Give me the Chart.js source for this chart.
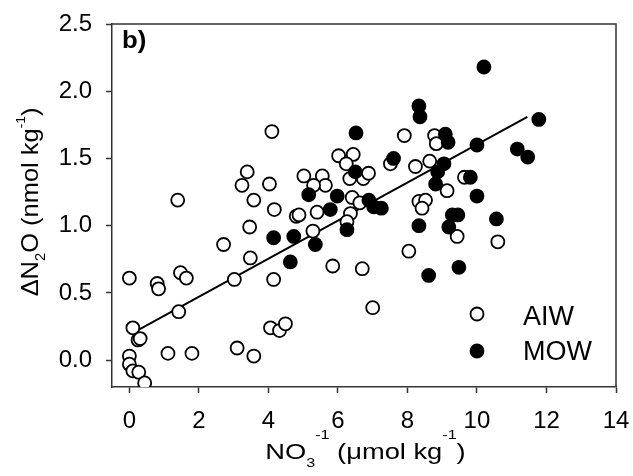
<!DOCTYPE html>
<html>
<head>
<meta charset="utf-8">
<script src="https://cdn.jsdelivr.net/npm/chart.js@4"></script>
<style>
html, body { margin: 0; padding: 0; background: #fff; }
</style>
</head>
<body>
<canvas id="myChart" width="633" height="476"></canvas>
<script>
// AIW (open circles)
const aiwX = [0.00, 0.80, 0.84, 1.39, 1.47, 1.64, 1.42, 0.10, 0.25, 0.31, 0.00, 0.00, 0.10, 0.27, 0.44,
    1.11, 1.80, 2.71, 3.02, 3.10, 3.58, 3.46, 3.48, 4.15, 4.06, 4.32, 4.49, 3.58, 4.17, 4.80,
    4.88, 5.40, 5.28, 5.85, 6.70, 6.36, 7.00, 6.41, 6.63, 4.10, 3.39, 3.24, 4.03, 5.02, 5.55,
    5.64, 5.30, 6.02, 6.44, 6.24, 6.34, 6.73, 6.88, 6.26, 7.91, 8.78, 8.83, 7.51, 8.23, 8.64,
    9.64, 9.14, 8.33, 8.52, 8.42, 9.43, 10.60, 8.04];
const aiwY = [0.61, 0.57, 0.53, 1.19, 0.65, 0.61, 0.36, 0.24, 0.15, 0.16, 0.03, -0.03, -0.08, -0.09, -0.17,
    0.05, 0.05, 0.86, 0.60, 0.09, 0.03, 0.99, 0.76, 0.60, 0.24, 0.22, 0.27, 1.19, 1.12, 1.07,
    1.08, 1.10, 0.96, 0.70, 0.68, 1.09, 0.39, 1.21, 1.17, 1.70, 1.40, 1.30, 1.31, 1.37, 1.37,
    1.30, 1.30, 1.52, 1.53, 1.46, 1.35, 1.35, 1.39, 1.03, 1.67, 1.67, 1.61, 1.46, 1.44, 1.48,
    1.36, 1.26, 1.18, 1.19, 1.13, 0.92, 0.88, 0.81];

// MOW (filled circles)
const mowX = [4.15, 4.73, 4.63, 5.35, 5.78, 5.98, 5.16, 6.26, 6.89, 7.03, 7.25, 6.52, 6.50, 10.20, 8.33,
    8.36, 11.78, 9.09, 9.17, 10.00, 11.16, 11.46, 7.60, 9.05, 8.87, 8.81, 9.81, 10.00, 10.56, 8.33,
    9.19, 9.29, 9.45, 8.61, 9.48];
const mowY = [0.91, 0.92, 0.73, 0.86, 1.12, 1.22, 1.23, 0.97, 1.19, 1.14, 1.13, 1.69, 1.40, 2.18, 1.89,
    1.81, 1.79, 1.68, 1.62, 1.60, 1.57, 1.51, 1.50, 1.46, 1.40, 1.31, 1.36, 1.22, 1.05, 1.00,
    0.99, 1.08, 1.08, 0.63, 0.69];

// regression line end points
const fitX = [0.30, 11.45];
const fitY = [0.23, 1.81];

const xTicks = [0, 2, 4, 6, 8, 10, 12, 14];
const yTicks = [0, 0.5, 1.0, 1.5, 2.0, 2.5];

const FONT = '"Liberation Sans", Arial, sans-serif';
const pts = (xs, ys) => xs.map((x, i) => ({ x: x, y: ys[i] }));

// draw text with sub/superscripts, centred on 0 at baseline 0
function richText(c, parts, sx) {
    let w = 0;
    parts.forEach(p => {
        c.font = p.size + 'px ' + FONT;
        p.w = c.measureText(p.t).width;
        w += p.w;
    });
    c.save();
    c.scale(sx, 1);
    let x = -w / 2;
    parts.forEach(p => {
        c.font = p.size + 'px ' + FONT;
        c.fillText(p.t, x, p.dy);
        x += p.w;
    });
    c.restore();
}

const extras = {
    id: 'extras',
    afterDraw(chart) {
        const c = chart.ctx;
        const a = chart.chartArea;
        c.save();
        // top and right frame
        c.strokeStyle = '#333';
        c.lineWidth = 1.5;
        c.beginPath();
        c.moveTo(a.left, a.top);
        c.lineTo(a.right, a.top);
        c.lineTo(a.right, a.bottom);
        c.stroke();

        c.fillStyle = '#000';
        c.textBaseline = 'alphabetic';
        c.textAlign = 'left';

        // panel label
        c.save();
        c.translate(122, 48);
        c.scale(1.12, 1);
        c.font = 'bold 23px ' + FONT;
        c.fillText('b)', 0, 0);
        c.restore();

        // legend
        c.lineWidth = 1.8;
        c.strokeStyle = '#000';
        c.beginPath();
        c.arc(477, 314, 6.5, 0, Math.PI * 2);
        c.fillStyle = '#fff';
        c.fill();
        c.stroke();
        c.beginPath();
        c.arc(477, 351, 6.5, 0, Math.PI * 2);
        c.fillStyle = '#000';
        c.fill();
        c.stroke();
        c.font = '27px ' + FONT;
        c.fillText('AIW', 523, 324.5);
        c.fillText('MOW', 523, 360);

        // x title
        c.save();
        c.translate(365.5, 459);
        richText(c, [
            { t: 'NO', size: 22, dy: 0 },
            { t: '3', size: 13, dy: 8 },
            { t: '-1', size: 13, dy: -20 },
            { t: ' (\u03BCmol kg', size: 22, dy: 0 },
            { t: '-1', size: 13, dy: -20 },
            { t: ')', size: 22, dy: 0 }
        ], 1.24);
        c.restore();

        // y title
        c.save();
        c.translate(38, 202);
        c.rotate(-Math.PI / 2);
        richText(c, [
            { t: '\u0394N', size: 24, dy: 0 },
            { t: '2', size: 14, dy: 7 },
            { t: 'O (nmol kg', size: 24, dy: 0 },
            { t: '-1', size: 13, dy: -13 },
            { t: ')', size: 24, dy: 0 }
        ], 1.06);
        c.restore();

        c.restore();
    }
};

const ctx = document.getElementById('myChart').getContext('2d');
const myChart = new Chart(ctx, {
    type: 'scatter',
    data: {
        datasets: [{
            label: 'MOW',
            data: pts(mowX, mowY),
            backgroundColor: '#000',
            borderColor: '#000',
            borderWidth: 1.8,
            pointRadius: 6.5,
            order: 1
        }, {
            label: 'AIW',
            data: pts(aiwX, aiwY),
            backgroundColor: '#fff',
            borderColor: '#000',
            borderWidth: 1.8,
            pointRadius: 6.5,
            order: 2
        }, {
            label: 'fit',
            data: pts(fitX, fitY),
            showLine: true,
            borderColor: '#000',
            borderWidth: 2,
            pointRadius: 0,
            order: 3
        }]
    },
    options: {
        responsive: false,
        animation: false,
        layout: { padding: { left: 0, right: 17, top: 24, bottom: 0 } },
        plugins: {
            legend: { display: false },
            tooltip: { enabled: false }
        },
        scales: {
            x: {
                type: 'linear',
                min: -0.5,
                max: 14,
                afterBuildTicks: s => { s.ticks = xTicks.map(v => ({ value: v })); },
                afterFit: s => { s.height = 89; s.paddingLeft = 0; s.paddingRight = 0; },
                ticks: {
                    color: '#000',
                    font: { family: FONT, size: 24 },
                    padding: 14,
                    maxRotation: 0,
                    autoSkip: false
                },
                grid: { drawOnChartArea: false, drawTicks: true, tickLength: 6, tickColor: '#333', tickWidth: 1.5 },
                border: { color: '#333', width: 1.5 }
            },
            y: {
                type: 'linear',
                min: -0.2,
                max: 2.5,
                afterBuildTicks: s => { s.ticks = yTicks.map(v => ({ value: v })); },
                afterFit: s => { s.width = 112; s.paddingTop = 0; s.paddingBottom = 0; },
                ticks: {
                    color: '#000',
                    font: { family: FONT, size: 24 },
                    padding: 14,
                    callback: v => v.toFixed(1)
                },
                grid: { drawOnChartArea: false, drawTicks: true, tickLength: 6, tickColor: '#333', tickWidth: 1.5 },
                border: { color: '#333', width: 1.5 }
            }
        }
    },
    plugins: [extras]
});
</script>
</body>
</html>
